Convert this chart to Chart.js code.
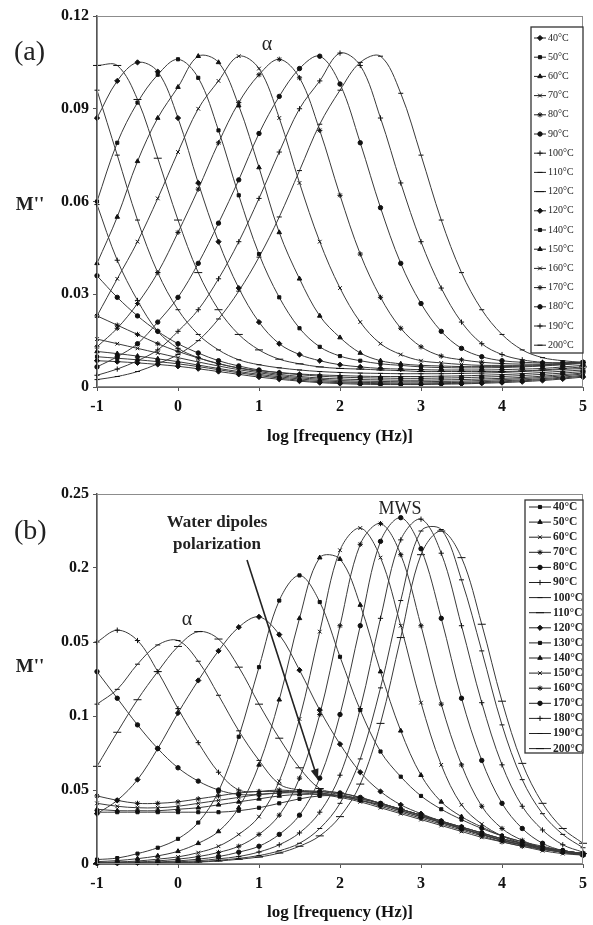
<!DOCTYPE html>
<html>
<head>
<meta charset="utf-8">
<script src="https://cdn.jsdelivr.net/npm/chart.js@4.4.1/dist/chart.umd.min.js"></script>
<style>
  html, body { margin: 0; padding: 0; background: #fff; }
  #wrap { position: relative; width: 593px; height: 925px; }
  canvas { position: absolute; left: 0; }
  #chartA { top: 0; }
  #chartB { top: 460px; }
</style>
</head>
<body>
<div id="wrap">
  <canvas id="chartA" width="593" height="460"></canvas>
  <canvas id="chartB" width="593" height="465"></canvas>
</div>
<script>
const SERIF = '"Liberation Serif", "Times New Roman", serif';

// x positions (log f) shared by every curve
const logFreq = [-1, -0.75, -0.5, -0.25, 0, 0.25, 0.5, 0.75, 1, 1.25, 1.5, 1.75, 2,
                 2.25, 2.5, 2.75, 3, 3.25, 3.5, 3.75, 4, 4.25, 4.5, 4.75, 5];
const xTicks = [-1, 0, 1, 2, 3, 4, 5];

const yTicksA = [0, 0.03, 0.06, 0.09, 0.12];
const yLabelsA = ['0', '0.03', '0.06', '0.09', '0.12'];
const yTicksB = [0, 0.05, 0.1, 0.15, 0.2, 0.25];
const yLabelsB = ['0', '0.05', '0.1', '0.05', '0.2', '0.25'];

const legendA = ['40°C', '50°C', '60°C', '70°C', '80°C', '90°C', '100°C', '110°C', '120°C',
                 '120°C', '140°C', '150°C', '160°C', '170°C', '180°C', '190°C', '200°C'];
const legendB = ['40°C', '50°C', '60°C', '70°C', '80°C', '90°C', '100°C', '110°C', '120°C',
                 '130°C', '140°C', '150°C', '160°C', '170°C', '180°C', '190°C', '200°C'];

// panel (a) M'' values
const a40  = [0.0085,0.0082,0.0078,0.0073,0.0067,0.0059,0.0050,0.0041,0.0032,0.0025,0.0019,0.0014,0.0011,0.0009,0.0008,0.0008,0.0008,0.0009,0.0010,0.0012,0.0014,0.0017,0.0021,0.0026,0.0032];
const a50  = [0.0098,0.0093,0.0088,0.0082,0.0075,0.0066,0.0056,0.0046,0.0037,0.0029,0.0022,0.0017,0.0014,0.0012,0.0011,0.0010,0.0010,0.0011,0.0012,0.0014,0.0017,0.0020,0.0024,0.0029,0.0035];
const a60  = [0.0115,0.0108,0.0100,0.0091,0.0082,0.0071,0.0060,0.0050,0.0041,0.0033,0.0026,0.0021,0.0017,0.0015,0.0014,0.0013,0.0013,0.0014,0.0015,0.0017,0.0020,0.0023,0.0027,0.0032,0.0038];
const a70  = [0.0155,0.0140,0.0125,0.0110,0.0095,0.0081,0.0068,0.0056,0.0046,0.0037,0.0030,0.0025,0.0021,0.0019,0.0018,0.0017,0.0017,0.0018,0.0019,0.0021,0.0024,0.0027,0.0031,0.0036,0.0042];
const a80  = [0.023,0.020,0.017,0.014,0.0115,0.0094,0.0076,0.0061,0.0050,0.0041,0.0034,0.0029,0.0026,0.0024,0.0023,0.0022,0.0022,0.0023,0.0024,0.0026,0.0028,0.0031,0.0035,0.0040,0.0045];
const a90  = [0.036,0.029,0.023,0.018,0.014,0.011,0.0085,0.0068,0.0055,0.0046,0.0040,0.0035,0.0032,0.0030,0.0029,0.0028,0.0028,0.0029,0.0030,0.0032,0.0034,0.0037,0.0041,0.0045,0.0050];
const a100 = [0.059,0.041,0.028,0.018,0.0125,0.0095,0.0075,0.0062,0.0053,0.0047,0.0042,0.0039,0.0037,0.0035,0.0034,0.0034,0.0034,0.0035,0.0036,0.0038,0.0040,0.0043,0.0047,0.0051,0.0055];
const a110 = [0.096,0.075,0.054,0.037,0.025,0.017,0.012,0.0088,0.0072,0.0062,0.0055,0.0050,0.0047,0.0045,0.0044,0.0043,0.0043,0.0043,0.0044,0.0045,0.0047,0.0050,0.0053,0.0057,0.0060];
const a120 = [0.104,0.104,0.093,0.074,0.054,0.037,0.025,0.017,0.012,0.009,0.0075,0.0065,0.0060,0.0058,0.0055,0.0053,0.0050,0.0050,0.0050,0.0050,0.0050,0.0052,0.0055,0.0060,0.0065];
const a130 = [0.087,0.099,0.105,0.102,0.087,0.066,0.047,0.032,0.021,0.014,0.0105,0.0085,0.0072,0.0065,0.0060,0.0058,0.0056,0.0055,0.0055,0.0055,0.0056,0.0058,0.0060,0.0065,0.0070];
const a140 = [0.060,0.079,0.092,0.101,0.106,0.100,0.083,0.062,0.043,0.029,0.019,0.013,0.010,0.0085,0.0075,0.0070,0.0065,0.0063,0.0062,0.0062,0.0063,0.0065,0.0068,0.0072,0.0076];
const a150 = [0.040,0.055,0.073,0.087,0.097,0.107,0.105,0.091,0.071,0.050,0.035,0.023,0.016,0.011,0.0085,0.0075,0.0070,0.0068,0.0066,0.0066,0.0066,0.0067,0.0070,0.0073,0.0078];
const a160 = [0.023,0.035,0.047,0.061,0.076,0.090,0.099,0.107,0.103,0.087,0.066,0.047,0.032,0.021,0.014,0.0105,0.0085,0.0078,0.0073,0.0070,0.0070,0.0070,0.0072,0.0075,0.0080];
const a170 = [0.013,0.019,0.027,0.037,0.050,0.064,0.079,0.092,0.101,0.106,0.100,0.083,0.062,0.043,0.029,0.019,0.013,0.010,0.0088,0.0080,0.0076,0.0074,0.0074,0.0076,0.0080];
const a180 = [0.0065,0.0098,0.014,0.021,0.029,0.040,0.053,0.067,0.082,0.094,0.103,0.107,0.098,0.079,0.058,0.040,0.027,0.018,0.0125,0.0098,0.0085,0.0080,0.0078,0.0078,0.0080];
const a190 = [0.0038,0.0058,0.0085,0.012,0.018,0.025,0.035,0.047,0.061,0.076,0.090,0.099,0.108,0.104,0.087,0.066,0.047,0.032,0.021,0.014,0.0105,0.0088,0.0080,0.0078,0.0080];
const a200 = [0.0024,0.0034,0.0050,0.0075,0.0105,0.015,0.022,0.031,0.042,0.055,0.070,0.085,0.096,0.105,0.107,0.095,0.075,0.054,0.037,0.025,0.017,0.012,0.0095,0.0085,0.0080];

// panel (b) M'' values
const b40  = [0.035,0.035,0.035,0.035,0.035,0.035,0.035,0.036,0.038,0.041,0.044,0.046,0.046,0.044,0.041,0.037,0.033,0.029,0.025,0.021,0.017,0.014,0.011,0.009,0.007];
const b50  = [0.037,0.036,0.036,0.036,0.037,0.038,0.040,0.042,0.044,0.046,0.047,0.047,0.046,0.043,0.040,0.036,0.032,0.028,0.024,0.020,0.016,0.013,0.010,0.008,0.006];
const b60  = [0.041,0.039,0.038,0.038,0.039,0.041,0.043,0.045,0.047,0.048,0.048,0.047,0.045,0.042,0.038,0.034,0.030,0.026,0.022,0.018,0.015,0.012,0.009,0.007,0.006];
const b70  = [0.046,0.043,0.041,0.041,0.042,0.044,0.046,0.048,0.049,0.050,0.049,0.048,0.046,0.043,0.039,0.035,0.031,0.027,0.023,0.019,0.015,0.012,0.010,0.008,0.006];
const b80  = [0.130,0.112,0.094,0.078,0.065,0.056,0.050,0.047,0.047,0.048,0.049,0.049,0.048,0.045,0.041,0.037,0.033,0.029,0.025,0.021,0.017,0.014,0.011,0.009,0.007];
const b90  = [0.150,0.158,0.151,0.130,0.105,0.082,0.062,0.050,0.049,0.049,0.049,0.048,0.046,0.043,0.040,0.036,0.032,0.028,0.024,0.020,0.016,0.013,0.011,0.009,0.007];
const b100 = [0.108,0.118,0.135,0.148,0.151,0.137,0.114,0.090,0.070,0.054,0.050,0.049,0.047,0.044,0.041,0.037,0.033,0.029,0.024,0.020,0.016,0.013,0.011,0.009,0.007];
const b110 = [0.066,0.089,0.111,0.130,0.147,0.157,0.152,0.133,0.108,0.085,0.065,0.051,0.048,0.045,0.041,0.037,0.033,0.028,0.024,0.020,0.016,0.013,0.010,0.008,0.007];
const b120 = [0.034,0.043,0.057,0.078,0.102,0.124,0.144,0.160,0.167,0.155,0.131,0.104,0.081,0.062,0.049,0.040,0.034,0.029,0.025,0.021,0.017,0.014,0.011,0.009,0.007];
const b130 = [0.003,0.004,0.007,0.011,0.017,0.028,0.049,0.086,0.133,0.178,0.195,0.177,0.140,0.104,0.076,0.059,0.046,0.037,0.030,0.024,0.019,0.015,0.012,0.009,0.007];
const b140 = [0.0016,0.0023,0.0036,0.0055,0.0086,0.014,0.022,0.038,0.067,0.111,0.166,0.207,0.206,0.175,0.130,0.090,0.060,0.042,0.032,0.025,0.019,0.015,0.011,0.009,0.007];
const b150 = [0.001,0.0014,0.002,0.0033,0.0048,0.0077,0.012,0.020,0.032,0.056,0.098,0.157,0.212,0.227,0.207,0.161,0.109,0.067,0.040,0.027,0.019,0.014,0.011,0.008,0.006];
const b160 = [0.0007,0.001,0.0014,0.0021,0.0033,0.005,0.0078,0.012,0.020,0.033,0.058,0.101,0.161,0.216,0.230,0.209,0.161,0.108,0.067,0.039,0.024,0.016,0.011,0.008,0.006];
const b170 = [0.0005,0.0007,0.0009,0.0014,0.0021,0.0033,0.005,0.008,0.012,0.020,0.033,0.058,0.101,0.161,0.218,0.234,0.213,0.166,0.112,0.070,0.041,0.024,0.014,0.009,0.006];
const b180 = [0.0004,0.0005,0.0007,0.0009,0.0015,0.0022,0.0035,0.0051,0.0081,0.013,0.021,0.035,0.060,0.105,0.166,0.219,0.233,0.210,0.161,0.109,0.067,0.039,0.023,0.013,0.008];
const b190 = [0.0003,0.0004,0.0005,0.0007,0.0009,0.0015,0.0025,0.0038,0.0057,0.0089,0.014,0.024,0.041,0.071,0.119,0.178,0.225,0.226,0.192,0.144,0.094,0.057,0.034,0.020,0.011];
const b200 = [0.0003,0.0003,0.0004,0.0005,0.0007,0.0013,0.002,0.0032,0.0047,0.0074,0.012,0.019,0.032,0.054,0.095,0.153,0.209,0.225,0.207,0.162,0.110,0.068,0.041,0.024,0.014];

const seriesA = [a40, a50, a60, a70, a80, a90, a100, a110, a120, a130, a140, a150, a160, a170, a180, a190, a200];
const seriesB = [b40, b50, b60, b70, b80, b90, b100, b110, b120, b130, b140, b150, b160, b170, b180, b190, b200];

// Excel style marker cycle: diamond, square, triangle, x, star, circle, plus, dash, long dash
const markerCycle = ['rectRot', 'rect', 'triangle', 'crossRot', 'star', 'circle', 'cross', 'dash', 'longdash'];

function markerFor(name) {
  if (name === 'dash') return { style: 'line', r: 2.5 };
  if (name === 'longdash') return { style: 'line', r: 4 };
  if (name === 'circle' || name === 'rect') return { style: name, r: 2.2 };
  return { style: name, r: 2.6 };
}

function buildDatasets(series, labels, cycleStart) {
  return series.map((vals, i) => {
    const m = markerFor(markerCycle[(i + cycleStart) % markerCycle.length]);
    return {
      label: labels[i],
      data: vals.map((v, j) => ({ x: logFreq[j], y: v })),
      borderColor: '#3a3a3a',
      borderWidth: 1,
      pointStyle: m.style,
      pointRadius: m.r,
      pointBorderWidth: 1,
      pointBackgroundColor: '#111',
      pointBorderColor: '#111',
      tension: 0.35,
      clip: 6,
      fill: false
    };
  });
}

// frame, in-plot legend, labels and arrow
function panelDecor(cfg) {
  return {
    id: 'panelDecor',
    afterDatasetsDraw(chart) {
      const { ctx, chartArea: ca } = chart;
      ctx.save();
      ctx.strokeStyle = '#8c8c8c';
      ctx.lineWidth = 1;
      ctx.strokeRect(ca.left + 0.5, ca.top + 0.5, ca.right - ca.left - 1, ca.bottom - ca.top - 1);

      const lb = cfg.legend;
      ctx.fillStyle = '#fff';
      ctx.fillRect(lb.x, lb.y, lb.w, lb.h);
      ctx.strokeStyle = '#333';
      ctx.lineWidth = 1.3;
      ctx.strokeRect(lb.x, lb.y, lb.w, lb.h);
      chart.data.datasets.forEach((ds, i) => {
        const y = lb.y + lb.first + i * lb.step;
        ctx.strokeStyle = '#222';
        ctx.lineWidth = 1;
        ctx.beginPath();
        ctx.moveTo(lb.x + lb.line0, y);
        ctx.lineTo(lb.x + lb.line1, y);
        ctx.stroke();
        ctx.fillStyle = '#111';
        ctx.strokeStyle = '#111';
        Chart.helpers.drawPoint(ctx, { pointStyle: ds.pointStyle, radius: ds.pointRadius, borderWidth: 1, rotation: 0 },
          lb.x + (lb.line0 + lb.line1) / 2, y);
        ctx.fillStyle = '#222';
        ctx.font = lb.font;
        ctx.textAlign = 'left';
        ctx.textBaseline = 'middle';
        ctx.fillText(ds.label, lb.x + lb.textX, y);
      });

      ctx.fillStyle = '#222';
      cfg.texts.forEach(t => {
        ctx.font = t.font;
        ctx.textAlign = t.align || 'center';
        ctx.textBaseline = 'middle';
        ctx.fillText(t.text, t.x, t.y);
      });

      if (cfg.arrow) {
        const a = cfg.arrow;
        const ang = Math.atan2(a.y1 - a.y0, a.x1 - a.x0);
        ctx.strokeStyle = '#222';
        ctx.lineWidth = 1.6;
        ctx.beginPath();
        ctx.moveTo(a.x0, a.y0);
        ctx.lineTo(a.x1 - 8 * Math.cos(ang), a.y1 - 8 * Math.sin(ang));
        ctx.stroke();
        ctx.beginPath();
        ctx.moveTo(a.x1, a.y1);
        ctx.lineTo(a.x1 - 11 * Math.cos(ang) + 4 * Math.sin(ang), a.y1 - 11 * Math.sin(ang) - 4 * Math.cos(ang));
        ctx.lineTo(a.x1 - 11 * Math.cos(ang) - 4 * Math.sin(ang), a.y1 - 11 * Math.sin(ang) + 4 * Math.cos(ang));
        ctx.closePath();
        ctx.fillStyle = '#222';
        ctx.fill();
      }
      ctx.restore();
    }
  };
}

function makeChart(id, datasets, yTicks, yLabels, yMax, padTop, xAxisHeight, titlePadBottom, decor) {
  return new Chart(document.getElementById(id), {
    type: 'line',
    data: { datasets },
    options: {
      responsive: false,
      animation: false,
      devicePixelRatio: 1,
      layout: { padding: { top: padTop, right: 4, bottom: 0, left: 0 } },
      plugins: { legend: { display: false }, tooltip: { enabled: false } },
      scales: {
        x: {
          type: 'linear',
          min: -1,
          max: 5,
          afterBuildTicks: s => { s.ticks = xTicks.map(v => ({ value: v })); },
          afterFit: s => { s.height = xAxisHeight; },
          grid: { drawOnChartArea: false, drawTicks: true, tickLength: 4, color: '#555' },
          border: { display: true, color: '#666', width: 1 },
          ticks: { color: '#111', padding: 6, font: { family: SERIF, size: 16, weight: 'bold' } },
          title: {
            display: true,
            text: 'log [frequency (Hz)]',
            color: '#111',
            padding: { top: 0, bottom: titlePadBottom },
            font: { family: SERIF, size: 17, weight: 'bold' }
          }
        },
        y: {
          type: 'linear',
          min: 0,
          max: yMax,
          afterBuildTicks: s => { s.ticks = yTicks.map(v => ({ value: v })); },
          afterFit: s => { s.width = 97; },
          grid: { drawOnChartArea: false, drawTicks: true, tickLength: 4, color: '#555' },
          border: { display: true, color: '#555', width: 1.5 },
          ticks: {
            color: '#111',
            padding: 4,
            font: { family: SERIF, size: 16, weight: 'bold' },
            callback: (v, i) => yLabels[i]
          }
        }
      }
    },
    plugins: [panelDecor(decor)]
  });
}

makeChart('chartA', buildDatasets(seriesA, legendA, 0), yTicksA, yLabelsA, 0.12, 16, 73, 13, {
  legend: { x: 531, y: 27, w: 52, h: 326, first: 11, step: 19.2, line0: 3, line1: 15, textX: 17, font: '10px ' + SERIF },
  texts: [
    { text: '(a)', x: 14, y: 53, font: '28px ' + SERIF, align: 'left' },
    { text: 'α', x: 267, y: 45, font: '20px ' + SERIF },
    { text: "M''", x: 30, y: 205, font: 'bold 19px ' + SERIF }
  ]
});

makeChart('chartB', buildDatasets(seriesB, legendB, 1), yTicksB, yLabelsB, 0.25, 34, 61, 2, {
  legend: { x: 525, y: 40, w: 58, h: 253, first: 7, step: 15.1, line0: 4, line1: 26, textX: 28, font: 'bold 11.5px ' + SERIF },
  texts: [
    { text: '(b)', x: 14, y: 72, font: '28px ' + SERIF, align: 'left' },
    { text: 'α', x: 187, y: 160, font: '20px ' + SERIF },
    { text: 'MWS', x: 400, y: 49, font: '18px ' + SERIF },
    { text: 'Water dipoles', x: 217, y: 63, font: 'bold 17px ' + SERIF },
    { text: 'polarization', x: 217, y: 85, font: 'bold 17px ' + SERIF },
    { text: "M''", x: 30, y: 207, font: 'bold 19px ' + SERIF }
  ],
  arrow: { x0: 247, y0: 100, x1: 318, y1: 320 }
});
</script>
</body>
</html>
